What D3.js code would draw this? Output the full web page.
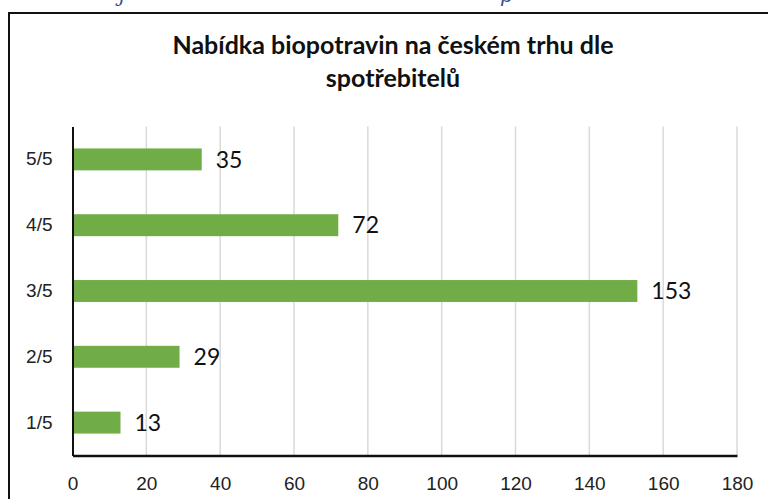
<!DOCTYPE html>
<html>
<head>
<meta charset="utf-8">
<script src="https://cdn.jsdelivr.net/npm/d3@7"></script>
<style>
  body { margin: 0; background: #fff; }
  svg { display: block; font-family: Lato, "Open Sans", sans-serif; }
</style>
</head>
<body>
<div id="chart"></div>
<script>
// data
var categories = ["5/5", "4/5", "3/5", "2/5", "1/5"];
var counts = [35, 72, 153, 29, 13];
var xTicks = [0, 20, 40, 60, 80, 100, 120, 140, 160, 180];
var titleLines = ["Nabídka biopotravin na českém trhu dle", "spotřebitelů"];

var w = 768, h = 499;
var svg = d3.select("#chart").append("svg")
    .attr("width", w)
    .attr("height", h);

// clipped caption descenders from the page above the chart
svg.append("text").attr("x", 119).attr("y", 2)
    .attr("fill", "#2f4f8f").style("font-family", "'DejaVu Serif', serif")
    .style("font-style", "italic").style("font-size", "20px").text("j");
svg.append("text").attr("x", 500).attr("y", 2)
    .attr("fill", "#2f4f8f").style("font-family", "'DejaVu Serif', serif")
    .style("font-style", "italic").style("font-size", "20px").text("p");

// chart frame
svg.append("rect")
    .attr("x", 9).attr("y", 13)
    .attr("width", 780).attr("height", 520)
    .attr("fill", "none")
    .attr("stroke", "#111")
    .attr("stroke-width", 2);

var title = svg.append("text")
    .attr("text-anchor", "middle")
    .style("font-size", "25px")
    .style("font-weight", "bold")
    .attr("fill", "#111");
title.selectAll("tspan")
    .data(titleLines)
  .enter().append("tspan")
    .attr("x", 393)
    .attr("y", function(d, i) { return 54 + i * 33; })
    .text(function(d) { return d; });

var x = d3.scaleLinear()
    .domain([0, 180])
    .range([72.5, 737]);
var y = d3.scaleBand()
    .domain(categories)
    .range([126.5, 455.5])
    .paddingInner(2 / 3)
    .paddingOuter(1 / 3);

// gridlines
svg.append("g")
  .selectAll("line")
    .data(xTicks.slice(1))
  .enter().append("line")
    .attr("x1", function(d) { return x(d); })
    .attr("x2", function(d) { return x(d); })
    .attr("y1", 126.5)
    .attr("y2", 455.5)
    .attr("stroke", "#d9d9d9")
    .attr("stroke-width", 1.5);

// bars
svg.append("g")
  .selectAll("rect")
    .data(categories)
  .enter().append("rect")
    .attr("x", x(0))
    .attr("y", function(d) { return y(d); })
    .attr("width", function(d, i) { return x(counts[i]) - x(0); })
    .attr("height", y.bandwidth())
    .attr("fill", "#70ad47");

// value labels
svg.append("g")
  .selectAll("text")
    .data(categories)
  .enter().append("text")
    .attr("x", function(d, i) { return x(counts[i]) + 14; })
    .attr("y", function(d) { return y(d) + y.bandwidth() / 2; })
    .attr("dy", "0.36em")
    .style("font-size", "23px")
    .attr("fill", "#111")
    .text(function(d, i) { return counts[i]; });

// axes
var xAxis = svg.append("g")
    .attr("transform", "translate(0,455.5)")
    .call(d3.axisBottom(x).tickValues(xTicks).tickSize(0).tickPadding(21));
xAxis.select(".domain").attr("stroke", "#111").attr("stroke-width", 2.5);
xAxis.selectAll("text").style("font-size", "19px").attr("fill", "#222");

var yAxis = svg.append("g")
    .attr("transform", "translate(72.5,0)")
    .call(d3.axisLeft(y).tickSize(0).tickPadding(20));
yAxis.select(".domain").attr("stroke", "#111").attr("stroke-width", 2);
yAxis.selectAll("text").style("font-size", "19px").attr("fill", "#222");
</script>
</body>
</html>
